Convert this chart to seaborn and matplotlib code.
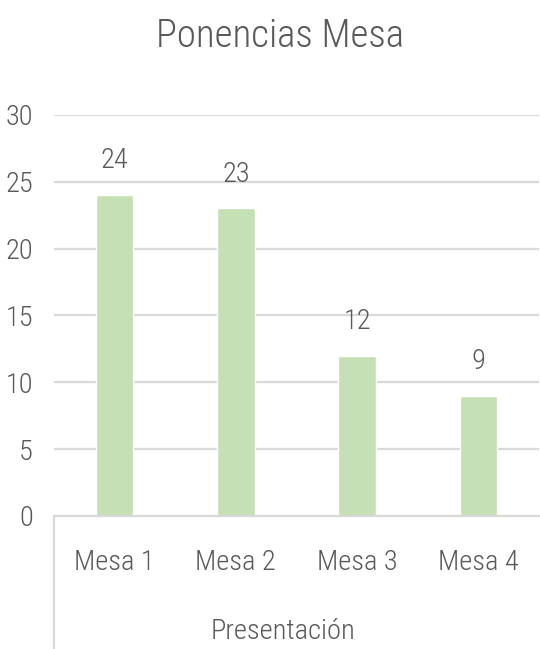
import matplotlib
matplotlib.use("Agg")
import matplotlib.pyplot as plt
import seaborn as sns
import pandas as pd

# datos del grafico
mesas = ["Mesa 1", "Mesa 2", "Mesa 3", "Mesa 4"]
ponencias = [24, 23, 12, 9]
y_ticks = [0, 5, 10, 15, 20, 25, 30]

df = pd.DataFrame({"Mesa": mesas, "Ponencias": ponencias})

sns.set_style("white")
plt.rcParams['font.family'] = ['Roboto Condensed', 'Carlito', 'DejaVu Sans']
plt.rcParams['font.weight'] = 'light'
plt.rcParams['axes.labelweight'] = 'light'

txt = "#595959"
grid = "#d9d9d9"
fs = 20.5

fig = plt.figure(figsize=(5.4, 6.49), dpi=100)
ax = fig.add_axes([0.1, 0.205, 0.898, 0.618])

sns.barplot(x="Mesa", y="Ponencias", data=df, color="#c5e0b4", width=0.31,
            saturation=1, ax=ax, zorder=3)
ax.bar_label(ax.containers[0], padding=15, fontsize=fs, color=txt)

ax.set_ylim(0, 30)
ax.set_yticks(y_ticks)
ax.set_xlim(-0.5, 3.5)
ax.yaxis.grid(True, color=grid, linewidth=1.6, zorder=0)
ax.tick_params(axis="y", length=0, pad=15, labelsize=fs, labelcolor=txt)
ax.tick_params(axis="x", length=0, pad=24, labelsize=fs, labelcolor=txt)

for s in ["top", "right", "left"]:
    ax.spines[s].set_visible(False)
ax.spines["bottom"].set_color(grid)
ax.spines["bottom"].set_linewidth(1.6)
ax.spines["bottom"].set_zorder(4)

# linea vertical del eje de categorias (estilo Excel)
ax.plot([0, 0], [0, -0.35], transform=ax.transAxes, color=grid,
        linewidth=1.6, clip_on=False)

ax.set_ylabel("")
ax.set_xlabel("Presentación", fontsize=fs, color=txt, va="center", weight="light")
ax.xaxis.set_label_coords(0.472, -0.289)

fig.suptitle("Ponencias Mesa", x=0.518, y=0.944, va="center", fontsize=28,
             color=txt, weight="light")

plt.savefig("out.png", dpi=100)
